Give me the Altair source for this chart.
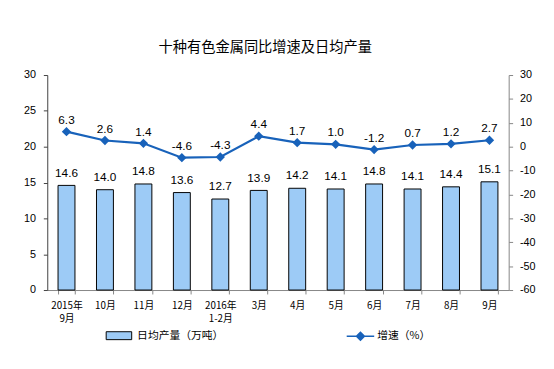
import altair as alt
import pandas as pd

categories = ["2015年 9月", "10月", "11月", "12月", "2016年 1-2月", "3月",
              "4月", "5月", "6月", "7月", "8月", "9月"]
output_vals = [14.6, 14.0, 14.8, 13.6, 12.7, 13.9, 14.2, 14.1, 14.8, 14.1, 14.4, 15.1]
growth_vals = [6.3, 2.6, 1.4, -4.6, -4.3, 4.4, 1.7, 1.0, -1.2, 0.7, 1.2, 2.7]
left_ticks = [0, 5, 10, 15, 20, 25, 30]
right_ticks = [-60, -50, -40, -30, -20, -10, 0, 10, 20, 30]
bar_name = "日均产量（万吨）"
line_name = "增速（%）"
title_text = "十种有色金属同比增速及日均产量"

df = pd.DataFrame({
    "cat": categories,
    "output": output_vals,
    "growth": growth_vals,
    "output_lbl": [f"{v:.1f}" for v in output_vals],
    "growth_lbl": [f"{v:.1f}" for v in growth_vals],
    "bar_s": [bar_name] * len(categories),
    "line_s": [line_name] * len(categories),
})

NUM_FONT = "Liberation Sans"
CJK_FONT = "Noto Sans CJK SC"
BAR_FILL = "#9DCBF6"
LINE_COL = "#1862BA"

x = alt.X("cat:N", sort=categories, title=None,
          scale=alt.Scale(paddingInner=0.56, paddingOuter=0.28),
          axis=alt.Axis(labelAngle=0, labelExpr="split(datum.label, ' ')",
                        labelFont=CJK_FONT, labelFontSize=10, labelColor="#000",
                        labelPadding=7, labelLineHeight=13.5, labelOverlap=False,
                        tickBand="extent", tickSize=4, tickColor="#868686",
                        domainColor="#868686"))

y_left = alt.Y("output:Q", title=None,
               scale=alt.Scale(domain=[0, 30], nice=False),
               axis=alt.Axis(values=left_ticks, grid=False,
                             labelExpr="toString(datum.value)", labelOverlap=False,
                             labelFont=NUM_FONT, labelFontSize=11, labelColor="#000",
                             labelPadding=8, tickSize=4, tickColor="#404040",
                             domainColor="#404040", orient="left"))

y_right = alt.Y("growth:Q", title=None,
                scale=alt.Scale(domain=[-60, 30], nice=False),
                axis=alt.Axis(values=right_ticks, grid=False,
                              labelExpr="toString(datum.value)", labelOverlap=False,
                              labelFont=NUM_FONT, labelFontSize=11, labelColor="#000",
                              labelPadding=7, tickSize=4, tickColor="#868686",
                              domainColor="#868686", orient="right"))

base = alt.Chart(df)

bars = base.mark_bar(stroke="#000", strokeWidth=1).encode(
    x=x,
    y=y_left,
    fill=alt.Fill("bar_s:N", scale=alt.Scale(domain=[bar_name], range=[BAR_FILL]),
                  legend=alt.Legend(title=None, orient="none", legendX=59.5, legendY=252,
                                    padding=0,
                                    symbolType="M-1,-0.31H1V0.31H-1Z", symbolSize=676,
                                    symbolStrokeColor="#000", symbolStrokeWidth=1,
                                    symbolFillColor=BAR_FILL,
                                    labelFont=CJK_FONT, labelFontSize=11, labelColor="#000",
                                    labelOffset=5)),
)

bar_labels = base.mark_text(baseline="alphabetic", dy=-9, font=NUM_FONT, fontSize=12,
                            color="#000").encode(
    x=x,
    y=y_left,
    text=alt.Text("output_lbl:N"),
)

left = alt.layer(bars, bar_labels)

line = base.mark_line(strokeWidth=2.2, point=alt.OverlayMarkDef(shape="diamond", size=45,
                                                                   filled=True, color=LINE_COL)).encode(
    x=x,
    y=y_right,
    stroke=alt.Stroke("line_s:N", scale=alt.Scale(domain=[line_name], range=[LINE_COL]),
                      legend=alt.Legend(title=None, orient="none", legendX=304, legendY=251,
                                        padding=0,
                                        symbolType="M-1,0H1M0,-0.29L0.29,0L0,0.29L-0.29,0Z",
                                        symbolSize=784, symbolStrokeColor=LINE_COL,
                                        symbolFillColor=LINE_COL, symbolStrokeWidth=1.5,
                                        labelFont=CJK_FONT, labelFontSize=11, labelColor="#000",
                                        labelOffset=2)),
)

line_labels = base.mark_text(baseline="alphabetic", dy=-8, font=NUM_FONT, fontSize=12,
                             color="#000").encode(
    x=x,
    y=y_right,
    text=alt.Text("growth_lbl:N"),
)

right = alt.layer(line, line_labels)

chart = alt.layer(left, right).resolve_scale(
    y="independent", fill="independent", stroke="independent"
).properties(
    width=470,
    height=219,
    padding={"left": 40, "top": 65, "right": 38, "bottom": 69},
    autosize=alt.AutoSizeParams(type="none"),
    title=alt.TitleParams(title_text, font=CJK_FONT, fontSize=14.5, fontWeight="normal",
                          color="#000", anchor="middle", dx=-13, offset=14),
).configure_view(stroke=None)

chart.save("out.html", embed_options={"renderer": "svg", "actions": False})
